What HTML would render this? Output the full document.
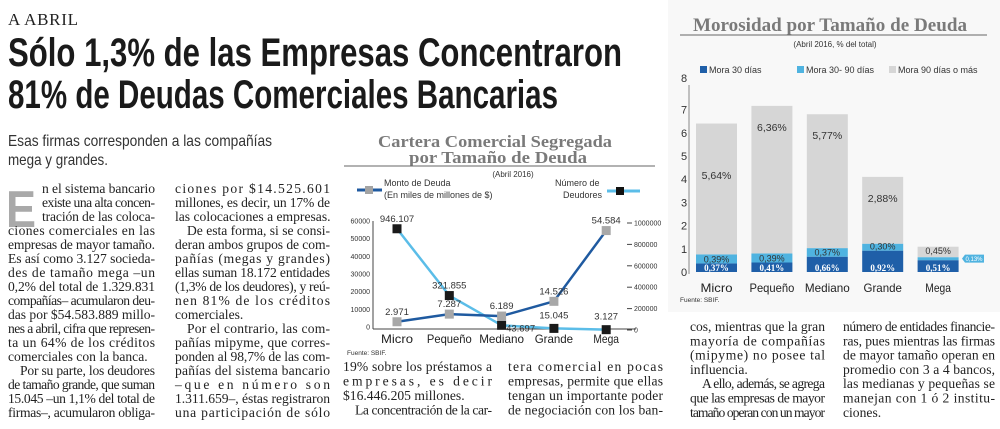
<!DOCTYPE html>
<html><head><meta charset="utf-8">
<style>
html,body{margin:0;padding:0;background:#fff;}
svg{display:block;}
.serif{font-family:"Liberation Serif",serif;}
.sans{font-family:"Liberation Sans",sans-serif;}
.body{font-family:"Liberation Serif",serif;font-size:13.6px;fill:#222;}
</style></head>
<body>
<svg id="page" width="1000" height="429" viewBox="0 0 1000 429" xmlns="http://www.w3.org/2000/svg">
  <rect x="668" y="0" width="332" height="312" fill="#f8f8f8"/>
  <text x="8" y="25" class="serif" font-size="17" fill="#222" textLength="70">A ABRIL</text>
  <text x="8" y="66" class="sans" font-size="40" font-weight="bold" fill="#1a1a1a" textLength="614" lengthAdjust="spacingAndGlyphs">Sólo 1,3% de las Empresas Concentraron</text>
  <text x="8" y="108" class="sans" font-size="40" font-weight="bold" fill="#1a1a1a" textLength="550" lengthAdjust="spacingAndGlyphs">81% de Deudas Comerciales Bancarias</text>
  <text x="8" y="146" class="sans" font-size="16" fill="#333" textLength="264" lengthAdjust="spacingAndGlyphs">Esas firmas corresponden a las compañías</text>
  <text x="8" y="165" class="sans" font-size="16" fill="#333" textLength="100" lengthAdjust="spacingAndGlyphs">mega y grandes.</text>
  <text x="6" y="227" class="sans" font-size="52" font-weight="bold" fill="#a9a9a9" textLength="30" lengthAdjust="spacingAndGlyphs">E</text>
  <g id="article"></g>
  <g id="chart1"></g>
  <g id="chart2"></g>
</svg>
<script>
const NS="http://www.w3.org/2000/svg";
function mk(tag,attrs,parent,txt){const e=document.createElementNS(NS,tag);for(const k in attrs)e.setAttribute(k,attrs[k]);if(txt!==undefined)e.textContent=txt;parent.appendChild(e);return e;}

// ---------- article text ----------
const art=document.getElementById('article');
const cols=[
 [8,147,193,14,["#n el sistema bancario","#existe una alta concen-","#tración de las coloca-","ciones comerciales en las","empresas de mayor tamaño.","Es así como 3.127 socieda-","des de tamaño mega –un","0,2% del total de 1.329.831","compañías– acumularon deu-","das por $54.583.889 millo-","nes a abril, cifra que represen-","ta un 64% de los créditos","!comerciales con la banca.","~Por su parte, los deudores","de tamaño grande, que suman","15.045 –un 1,1% del total de","firmas–, acumularon obliga-"]],
 [175,155,193,14,["ciones por $14.525.601","millones, es decir, un 17% de","!las colocaciones a empresas.","~De esta forma, si se consi-","deran ambos grupos de com-","pañías (megas y grandes)","ellas suman 18.172 entidades","(1,3% de los deudores), y reú-","nen 81% de los créditos","!comerciales.","~Por el contrario, las com-","pañías mipyme, que corres-","ponden al 98,7% de las com-","pañías del sistema bancario","–que en número son","1.311.659–, éstas registraron","una participación de sólo"]],
 [343,149,371,14.5,["19% sobre los préstamos a","empresas, es decir","!$16.446.205 millones.","~La concentración de la car-"]],
 [508,155,371,14.5,["tera comercial en pocas","empresas, permite que ellas","tengan un importante poder","de negociación con los ban-"]],
 [690,135,331,14.3,["cos, mientras que la gran","mayoría de compañías","(mipyme) no posee tal","!influencia.","~A ello, además, se agrega","que las empresas de mayor","tamaño operan con un mayor"]],
 [843,152,331,14.3,["número de entidades financie-","ras, pues mientras las firmas","de mayor tamaño operan en","promedio con 3 a 4 bancos,","las medianas y pequeñas se","manejan con 1 ó 2 institu-","!ciones."]]
];
cols.forEach((c,ci)=>{
  c[4].forEach((ln,i)=>{
    let x=c[0],w=c[1],just=true,t=ln;
    if(t[0]==='#'){t=t.slice(1);x=c[0]+34;w=c[1]-34;}
    else if(t[0]==='~'){t=t.slice(1);x=c[0]+12;w=c[1]-12;}
    else if(t[0]==='!'){t=t.slice(1);just=false;}
    const a={x:x,y:(c[2]+i*c[3]).toFixed(1),class:'body'};
    if(just){a.textLength=w;a.lengthAdjust='spacing';}
    const el=mk('text',a,art,t);
    
    
  });
});

// ---------- Chart 1: Cartera Comercial ----------
const c1Categories=["Micro","Pequeño","Mediano","Grande","Mega"];
const c1Monto=[2971,7287,6189,14526,54584];
const c1MontoLabels=["2.971","7.287","6.189","14.526","54.584"];
const c1Deudores=[946107,321855,43697,15045,3127];
const c1DeudoresLabels=["946.107","321.855","43.697","15.045","3.127"];
const c1LeftTicks=[0,10000,20000,30000,40000,50000,60000];
const c1RightTicks=[0,200000,400000,600000,800000,1000000];

const g1=document.getElementById('chart1');
const c1x=i=>397+i*52.3;
const c1yL=v=>327-v*(106/60000);
const c1yR=v=>330-v*(107/1000000);

mk('text',{x:495,y:147,'text-anchor':'middle',class:'serif','font-size':17,'font-weight':'bold',fill:'#7a7a7a',textLength:234,lengthAdjust:'spacingAndGlyphs',},g1,'Cartera Comercial Segregada');
mk('text',{x:498,y:163,'text-anchor':'middle',class:'serif','font-size':17,'font-weight':'bold',fill:'#7a7a7a',textLength:178,lengthAdjust:'spacingAndGlyphs',},g1,'por Tamaño de Deuda');
mk('line',{x1:344,y1:166,x2:655,y2:166,stroke:'#666','stroke-width':1,},g1);
mk('text',{x:513,y:177,'text-anchor':'middle',class:'sans','font-size':8,fill:'#333',},g1,'(Abril 2016)');
mk('line',{x1:357,y1:190,x2:382,y2:190,stroke:'#1f5aa0','stroke-width':3,},g1);
mk('rect',{x:365,y:186,width:8,height:8,fill:'#a3a3a3',},g1);
mk('text',{x:384,y:186,class:'sans','font-size':9,fill:'#333',},g1,'Monto de Deuda');
mk('text',{x:384,y:198,class:'sans','font-size':9,fill:'#333',},g1,'(En miles de millones de $)');
mk('text',{x:555,y:186,class:'sans','font-size':9,fill:'#333',},g1,'Número de');
mk('text',{x:563,y:198,class:'sans','font-size':9,fill:'#333',},g1,'Deudores');
mk('line',{x1:607,y1:191,x2:640,y2:191,stroke:'#5bbde8','stroke-width':3,},g1);
mk('rect',{x:616,y:187,width:8,height:8,fill:'#111',},g1);
mk('line',{x1:373,y1:221,x2:373,y2:329,stroke:'#444','stroke-width':1,},g1);
mk('line',{x1:373,y1:329,x2:636,y2:329,stroke:'#444','stroke-width':1,},g1);
c1LeftTicks.forEach(v=>{
  const t=mk('text',{x:370,y:c1yL(v)+2.5,'text-anchor':'end',class:'sans','font-size':7,fill:'#333'},g1,String(v));
  
  
});
c1RightTicks.forEach(v=>{
  const tk=mk('line',{x1:627,y1:c1yR(v),x2:632,y2:c1yR(v),stroke:'#444'},g1);
  
  
  const t=mk('text',{x:634,y:c1yR(v)+2.5,class:'sans','font-size':7,fill:'#333'},g1,String(v));
  
  
});
c1Categories.forEach((c,i)=>{
  const t=mk('text',{x:c1x(i),y:343,'text-anchor':'middle',class:'sans','font-size':12,fill:'#222',textLength:c.length*6.4,lengthAdjust:'spacingAndGlyphs'},g1,c);
  
  
});
mk('text',{x:347,y:355,class:'sans','font-size':6.5,fill:'#333',},g1,'Fuente: SBIF.');
const dPts=c1Deudores.map((v,i)=>c1x(i)+','+c1yR(v)).join(' ');
const mPts=c1Monto.map((v,i)=>c1x(i)+','+c1yL(v)).join(' ');
mk('polyline',{points:dPts,fill:'none',stroke:'#5bbde8','stroke-width':2.5,},g1);
mk('polyline',{points:mPts,fill:'none',stroke:'#1f5aa0','stroke-width':2.5,},g1);
c1Monto.forEach((v,i)=>{
  const r=mk('rect',{x:c1x(i)-4.5,y:c1yL(v)-4.5,width:9,height:9,fill:'#a8a8a8'},g1);
  
  
  const t=mk('text',{x:c1x(i),y:c1yL(v)-7,'text-anchor':'middle',class:'sans','font-size':9.5,fill:'#333'},g1,c1MontoLabels[i]);
  
  
});
c1Deudores.forEach((v,i)=>{
  const r=mk('rect',{x:c1x(i)-4.5,y:c1yR(v)-4.5,width:9,height:9,fill:'#1a1a1a'},g1);
  
  
  const off=(i===2)?[7,6]:(i===0||i===1)?[0,-7]:[0,-8];
  const t=mk('text',{x:c1x(i)+off[0]+(i===2?12:0),y:c1yR(v)+off[1]-(i>=3?2:0),'text-anchor':'middle',class:'sans','font-size':9.5,fill:'#333'},g1,c1DeudoresLabels[i]);
  
  
});

// ---------- Chart 2: Morosidad ----------
const c2Categories=["Micro","Pequeño","Mediano","Grande","Mega"];
const c2Mora30=[0.37,0.41,0.66,0.92,0.51];
const c2Mora30_90=[0.39,0.39,0.37,0.30,0.13];
const c2Mora90=[5.64,6.36,5.77,2.88,0.45];
const c2Mora30Labels=["0,37%","0,41%","0,66%","0,92%","0,51%"];
const c2Mora30_90Labels=["0,39%","0,39%","0,37%","0,30%","0,13%"];
const c2Mora90Labels=["5,64%","6,36%","5,77%","2,88%","0,45%"];
const c2Ticks=[0,1,2,3,4,5,6,7,8];

const g2=document.getElementById('chart2');
const c2x=i=>696+i*55.4;
const bw=41;
const c2y=v=>272-v*23.2;
mk('text',{x:830,y:31,'text-anchor':'middle',class:'serif','font-size':19,'font-weight':'bold',fill:'#7a7a7a',textLength:274,lengthAdjust:'spacingAndGlyphs',},g2,'Morosidad por Tamaño de Deuda');
mk('line',{x1:680,y1:35,x2:987,y2:35,stroke:'#666','stroke-width':1,},g2);
mk('text',{x:835,y:47,'text-anchor':'middle',class:'sans','font-size':8,fill:'#333',},g2,'(Abril 2016, % del total)');
const leg=[[700,'#1f5fa8','Mora 30 días'],[797,'#4fb3e0','Mora 30- 90 días'],[889,'#d6d6d6','Mora 90 días o más']];
leg.forEach(l=>{
  const r=mk('rect',{x:l[0],y:66,width:7,height:7,fill:l[1]},g2);
  
  
  const t=mk('text',{x:l[0]+9,y:73,class:'sans','font-size':9,fill:'#333'},g2,l[2]);
  
  
});
mk('line',{x1:689,y1:85,x2:689,y2:274,stroke:'#888','stroke-width':1,},g2);
c2Ticks.forEach(v=>{
  const yy=(v===8)?78:c2y(v);
  const t=mk('text',{x:684,y:yy+4,'text-anchor':'middle',class:'sans','font-size':11,fill:'#333'},g2,String(v));
  
  
});
c2Categories.forEach((c,i)=>{
  const x=c2x(i);
  const y0=c2y(0),y1=c2y(c2Mora30[i]),y2=c2y(c2Mora30[i]+c2Mora30_90[i]),y3=c2y(c2Mora30[i]+c2Mora30_90[i]+c2Mora90[i]);
  const r1=mk('rect',{x:x,y:y1,width:bw,height:y0-y1,fill:'#1f5fa8'},g2);
  
  
  const r2=mk('rect',{x:x,y:y2,width:bw,height:y1-y2,fill:'#4fb3e0'},g2);
  
  
  const r3=mk('rect',{x:x,y:y3,width:bw,height:y2-y3,fill:'#d6d6d6'},g2);
  
  
  const cx=x+bw/2;
  const t1=mk('text',{x:cx,y:y0-1,'text-anchor':'middle',class:'serif','font-size':9,'font-weight':'bold',fill:'#fff'},g2,c2Mora30Labels[i]);
  
  
  if(i<4){
    const t2=mk('text',{x:cx,y:y1-1,'text-anchor':'middle',class:'sans','font-size':9,fill:'#333'},g2,c2Mora30_90Labels[i]);
    
    
  }
  const ly=(i===4)?y2-3:(i===0?(y3+y2)/2-10:y3+25);
  const t3=mk('text',{x:cx,y:ly,'text-anchor':'middle',class:'sans','font-size':(i===4?9:10.5),fill:'#333'},g2,c2Mora90Labels[i]);
  
  
  const t4=mk('text',{x:cx,y:292,'text-anchor':'middle',class:'sans','font-size':12,fill:'#222',textLength:c.length*6.4,lengthAdjust:'spacingAndGlyphs'},g2,c);
  
  
});
const megaMid=c2y(c2Mora30[4]+c2Mora30_90[4]/2);
mk('polygon',{points:`962,${megaMid} 965,${megaMid-4} 984,${megaMid-4} 984,${megaMid+4} 965,${megaMid+4}`,fill:'#4fb3e0',},g2);
mk('text',{x:974,y:megaMid+2.5,'text-anchor':'middle',class:'sans','font-size':6,fill:'#fff',},g2,c2Mora30_90Labels[4]);
mk('text',{x:680,y:302,class:'sans','font-size':6.5,fill:'#333',},g2,'Fuente: SBIF.');
</script>
</body></html>
